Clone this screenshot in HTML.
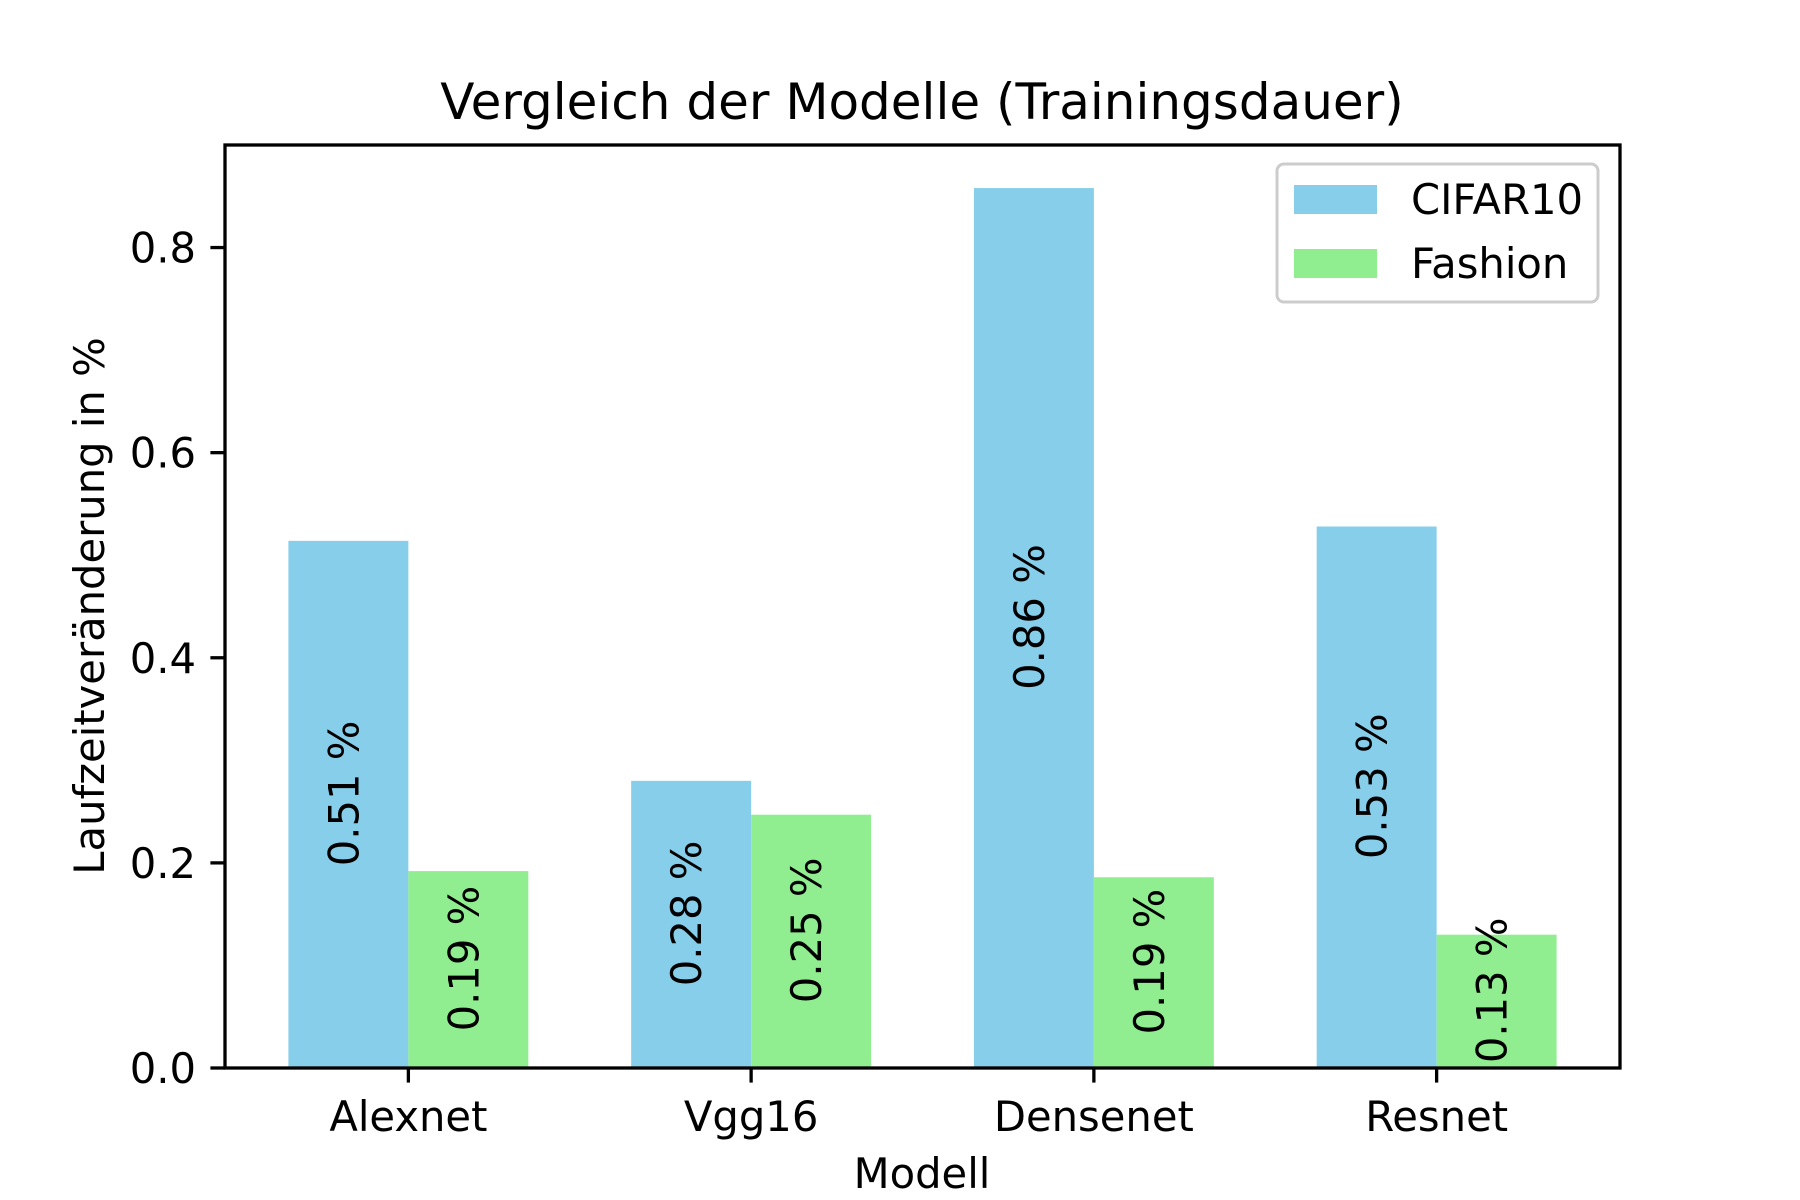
<!DOCTYPE html>
<html><head><meta charset="utf-8"><style>html,body{margin:0;padding:0;background:#fff}svg{display:block}text{font-family:"DejaVu Sans","Liberation Sans",sans-serif;fill:#000}</style></head>
<body>
<svg id="chart" width="1800" height="1200" viewBox="0 0 1800 1200" xmlns="http://www.w3.org/2000/svg">
<rect width="1800" height="1200" fill="#fff"/>
<text x="922" y="119" font-size="50" text-anchor="middle">Vergleich der Modelle (Trainingsdauer)</text>
<g id="bars"></g>
<g id="axes"></g>
<text x="922" y="1188" font-size="41.7" text-anchor="middle">Modell</text>
<text transform="translate(104,606) rotate(-90)" font-size="41.7" text-anchor="middle">Laufzeitveränderung in %</text>
<g>
<rect x="1277" y="164" width="321" height="138" rx="7" fill="#fff" stroke="#ccc" stroke-width="3"/>
<rect x="1294" y="185" width="83" height="29" fill="#87CEEB"/>
<text x="1411" y="214" font-size="41.7">CIFAR10</text>
<rect x="1294" y="249" width="83" height="29" fill="#90EE90"/>
<text x="1411" y="278" font-size="41.7">Fashion</text>
</g>
</svg>
<script>
const categories = ["Alexnet", "Vgg16", "Densenet", "Resnet"];
const cifar10 = [0.514, 0.28, 0.858, 0.528];
const fashion = [0.192, 0.247, 0.186, 0.13];
const yTicks = [0.0, 0.2, 0.4, 0.6, 0.8];
const yTickLabels = ["0.0", "0.2", "0.4", "0.6", "0.8"];

const L = 225, R = 1620, T = 145, B = 1068;
const xMin = -0.535, xMax = 3.535, yMin = 0, yMax = 0.9;
const xs = v => L + (v - xMin) / (xMax - xMin) * (R - L);
const ys = v => B - (v - yMin) / (yMax - yMin) * (B - T);
const NS = "http://www.w3.org/2000/svg";
const bw = 0.35;
const barsG = document.getElementById("bars");
const axesG = document.getElementById("axes");

function addBar(i, v, off, color, series) {
  const x0 = xs(i + off - bw / 2), x1 = xs(i + off + bw / 2);
  const r = document.createElementNS(NS, "rect");
  r.setAttribute("x", x0); r.setAttribute("width", x1 - x0);
  r.setAttribute("y", ys(v)); r.setAttribute("height", ys(0) - ys(v));
  r.setAttribute("fill", color);
  
  
  barsG.appendChild(r);
  const t = document.createElementNS(NS, "text");
  const cx = (x0 + x1) / 2, cy = (ys(v) + ys(0)) / 2 - 11;
  t.setAttribute("transform", "translate(" + (cx + 10) + "," + cy + ") rotate(-90)");
  t.setAttribute("font-size", "41.7");
  t.setAttribute("text-anchor", "middle");
  t.textContent = v.toFixed(2) + " %";
  
  
  barsG.appendChild(t);
}
categories.forEach((c, i) => {
  addBar(i, cifar10[i], -bw / 2, "#87CEEB", "cifar10");
  addBar(i, fashion[i], bw / 2, "#90EE90", "fashion");
});

const frame = document.createElementNS(NS, "rect");
frame.setAttribute("x", L); frame.setAttribute("y", T);
frame.setAttribute("width", R - L); frame.setAttribute("height", B - T);
frame.setAttribute("fill", "none"); frame.setAttribute("stroke", "#000"); frame.setAttribute("stroke-width", "3.3");


axesG.appendChild(frame);

yTicks.forEach((v, k) => {
  const y = ys(v);
  const ln = document.createElementNS(NS, "line");
  ln.setAttribute("x1", L - 14.6); ln.setAttribute("x2", L);
  ln.setAttribute("y1", y); ln.setAttribute("y2", y);
  ln.setAttribute("stroke", "#000"); ln.setAttribute("stroke-width", "3.3");
  
  
  axesG.appendChild(ln);
  const t = document.createElementNS(NS, "text");
  t.setAttribute("x", L - 29); t.setAttribute("y", y + 15);
  t.setAttribute("font-size", "41.7"); t.setAttribute("text-anchor", "end");
  t.textContent = yTickLabels[k];
  
  
  axesG.appendChild(t);
});
categories.forEach((c, i) => {
  const x = xs(i);
  const ln = document.createElementNS(NS, "line");
  ln.setAttribute("x1", x); ln.setAttribute("x2", x);
  ln.setAttribute("y1", B); ln.setAttribute("y2", B + 14.6);
  ln.setAttribute("stroke", "#000"); ln.setAttribute("stroke-width", "3.3");
  
  
  axesG.appendChild(ln);
  const t = document.createElementNS(NS, "text");
  t.setAttribute("x", x); t.setAttribute("y", B + 63);
  t.setAttribute("font-size", "41.7"); t.setAttribute("text-anchor", "middle");
  t.textContent = c;
  
  
  axesG.appendChild(t);
});
</script>
</body></html>
